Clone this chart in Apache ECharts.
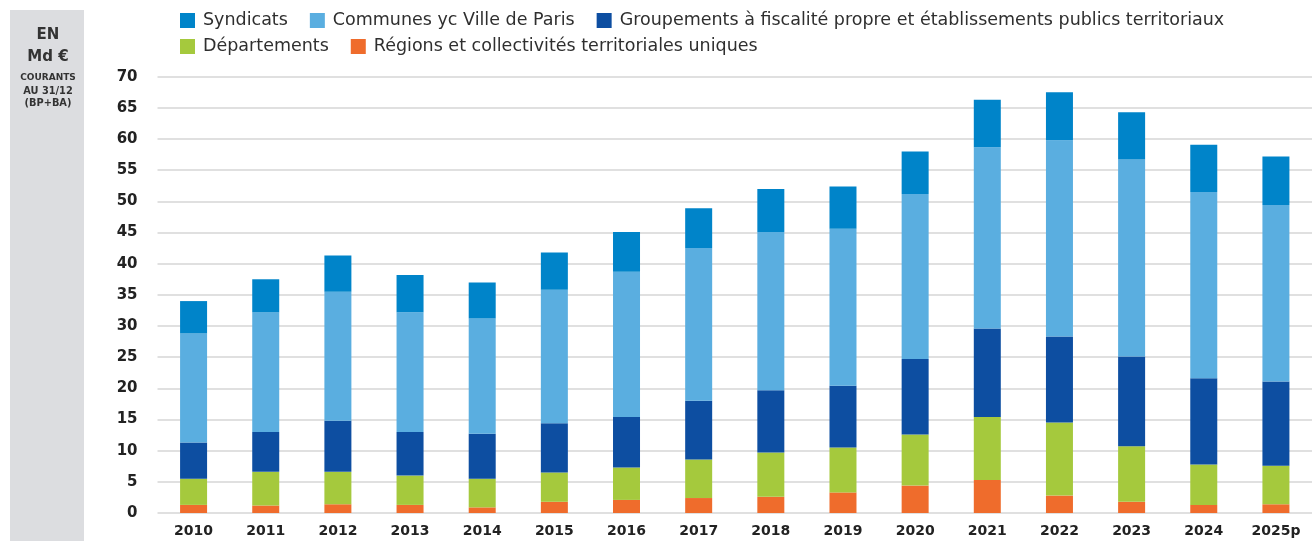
<!DOCTYPE html>
<html><head><meta charset="utf-8">
<script src="https://cdn.jsdelivr.net/npm/echarts@6/dist/echarts.min.js"></script>
<style>html,body{margin:0;padding:0;background:#fff}#c{width:1312px;height:541px}</style>
</head><body><div id="c"></div>
<script>
const categories = ['2010','2011','2012','2013','2014','2015','2016','2017','2018','2019','2020','2021','2022','2023','2024','2025p'];
const regions      = [1.3,1.2,1.4,1.3,0.9,1.8,2.1,2.4,2.6,3.3,4.4,5.3,2.8,1.8,1.3,1.4];
const departements = [4.2,5.4,5.2,4.7,4.6,4.7,5.2,6.2,7.1,7.2,8.2,10.1,11.7,8.9,6.5,6.2];
const groupements  = [5.8,6.4,8.2,7.0,7.2,7.9,8.1,9.4,10.0,9.9,12.1,14.2,13.8,14.4,13.8,13.5];
const communes     = [17.5,19.2,20.7,19.2,18.5,21.4,23.3,24.5,25.4,25.2,26.5,29.1,31.5,31.6,29.9,28.3];
const syndicats    = [5.2,5.3,5.8,6.0,5.8,6.0,6.4,6.4,6.9,6.8,6.8,7.6,7.7,7.6,7.6,7.8];
const yTicks = [0,5,10,15,20,25,30,35,40,45,50,55,60,65,70];

const names = {
  syn: 'Syndicats',
  com: 'Communes yc Ville de Paris',
  grp: 'Groupements à fiscalité propre et établissements publics territoriaux',
  dep: 'Départements',
  reg: 'Régions et collectivités territoriales uniques'
};
const colors = {syn:'#0084c9', com:'#5aaee0', grp:'#0d4ea1', dep:'#a5c93d', reg:'#ef6c2c'};
const font = '"DejaVu Sans", "Open Sans", sans-serif';

function bar(key, data){
  return {name: names[key], type:'bar', stack:'t', data: data, barWidth: 27,
    itemStyle:{color: colors[key]}, emphasis:{disabled:true}};
}
const legendText = {fontFamily: font, fontSize: 17.5, fontWeight: 'normal', color:'#2f2f2f', padding:[0,0,0,3]};

const chart = echarts.init(document.getElementById('c'), null, {renderer:'canvas'});
chart.setOption({
  animation:false,
  textStyle:{fontFamily: font},
  legend:[
    {data:[names.syn, names.com, names.grp], left:180, top:11.5, itemWidth:15, itemHeight:15, itemGap:22,
     icon:'rect', textStyle: legendText, selectedMode:false, padding:0},
    {data:[names.dep, names.reg], left:180, top:37.5, itemWidth:15, itemHeight:15, itemGap:22,
     icon:'rect', textStyle: legendText, selectedMode:false, padding:0}
  ],
  grid:{left:157.5, right:-5, top:76.7, bottom:28, containLabel:false},
  xAxis:{type:'category', data:categories,
    axisLine:{show:false}, axisTick:{show:false},
    axisLabel:{fontFamily: font, fontSize:14, fontWeight:'bold', color:'#222', margin:11}},
  yAxis:{type:'value', min:0, max:70, interval:5,
    axisLine:{show:false}, axisTick:{show:false},
    splitLine:{lineStyle:{color:'#d6d6d6', width:1.5}},
    axisLabel:{fontFamily: font, fontSize:15, fontWeight:'bold', color:'#222', margin:20,
      formatter: v => yTicks.includes(v) ? String(v) : ''}},
  graphic:[
    {type:'rect', shape:{x:10, y:10, width:74, height:540}, style:{fill:'#dcdde0'}, silent:true},
    {type:'text', x:48, y:35, style:{text:'EN', font:'bold 15px '+font, fill:'#333', align:'center', verticalAlign:'middle'}},
    {type:'text', x:48, y:57, style:{text:'Md €', font:'bold 15px '+font, fill:'#333', align:'center', verticalAlign:'middle'}},
    {type:'text', x:48, y:77.5, style:{text:'COURANTS', font:'bold 9px '+font, fill:'#333', align:'center', verticalAlign:'middle'}},
    {type:'text', x:48, y:91, style:{text:'AU 31/12', font:'bold 9.8px '+font, fill:'#333', align:'center', verticalAlign:'middle'}},
    {type:'text', x:48, y:103, style:{text:'(BP+BA)', font:'bold 9.8px '+font, fill:'#333', align:'center', verticalAlign:'middle'}}
  ],
  series:[
    bar('reg', regions),
    bar('dep', departements),
    bar('grp', groupements),
    bar('com', communes),
    bar('syn', syndicats)
  ]
});
</script></body></html>
